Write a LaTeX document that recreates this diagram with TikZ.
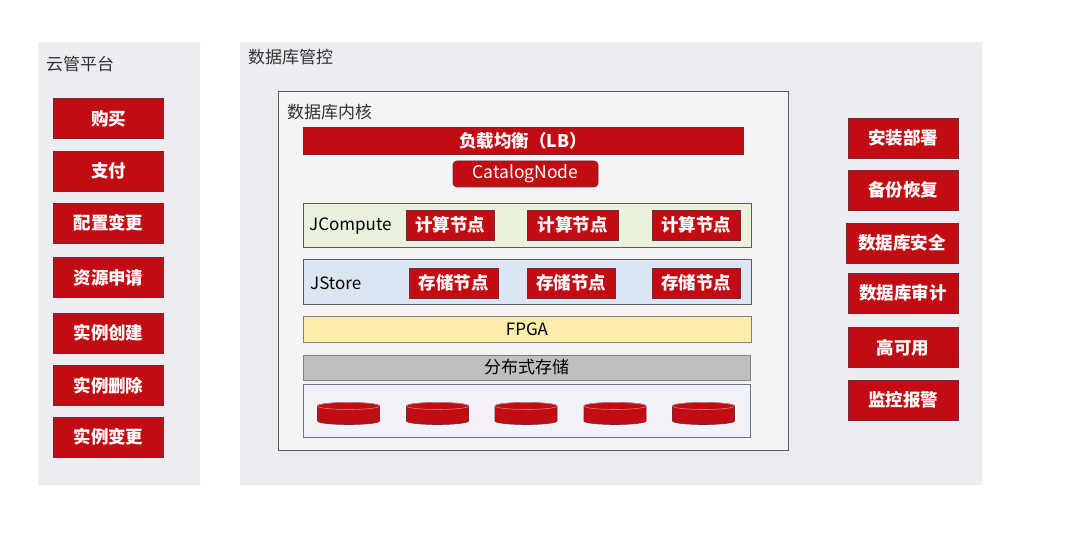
\documentclass[tikz,border=0pt]{standalone}
\usepackage{fontspec}
\setmainfont{Noto Sans CJK SC}
\usetikzlibrary{shapes,positioning}

\definecolor{panelbg}{RGB}{237,237,241}
\definecolor{corebg}{RGB}{244,244,246}
\definecolor{coreline}{RGB}{90,90,95}
\definecolor{btnred}{RGB}{192,12,18}
\definecolor{btnline}{RGB}{115,40,60}
\definecolor{disktop}{RGB}{215,120,125}
\definecolor{cmpgreen}{RGB}{234,241,221}
\definecolor{stoblue}{RGB}{220,230,242}
\definecolor{fpgayellow}{RGB}{254,238,172}
\definecolor{dfsgray}{RGB}{191,191,191}
\definecolor{diskbg}{RGB}{240,242,248}
\definecolor{diskline}{RGB}{105,115,145}
\definecolor{labelgray}{RGB}{50,50,50}

\tikzset{
  panel/.style={fill=panelbg, anchor=north west, inner sep=0pt},
  redbtn/.style={draw=btnline, fill=btnred, text=white, line width=0.8pt,
    font=\bfseries\fontsize{17.5}{19}\selectfont, inner sep=0pt},
  layer/.style={draw=coreline, line width=0.8pt, inner sep=0pt,
    font=\fontsize{17}{19}\selectfont, text=black},
  title/.style={anchor=west, inner sep=0pt, text=labelgray,
    font=\fontsize{17}{19}\selectfont},
  disk/.pic={
    \path[fill=btnred, draw=btnline, line width=0.6pt] (-31,-7.5) -- (-31,7.5)
      arc[start angle=180, end angle=0, x radius=31, y radius=3.5] -- (31,-7.5)
      arc[start angle=0, end angle=-180, x radius=31, y radius=3.5] -- cycle;
    \draw[disktop, line width=0.6pt] (0,-7.5) ellipse[x radius=31, y radius=3.5];
  }
}

\begin{document}
\begin{tikzpicture}[x=1pt, y=-1pt]
    \useasboundingbox[fill=white] (0,0) rectangle (1080,545);

    % Cloud platform column
    \node[panel, minimum width=162, minimum height=443] (cloud) at (38,42) {};
    \node[title] (cloudtitle) at (46,64) {云管平台};
    \node[redbtn, minimum width=110, minimum height=40] (buy) at (108.5,118.5) {购买};
    \node[redbtn, minimum width=110, minimum height=40] (pay) at (108.5,171) {支付};
    \node[redbtn, minimum width=110, minimum height=40] (config) at (108.5,223) {配置变更};
    \node[redbtn, minimum width=110, minimum height=40] (apply) at (108.5,277.5) {资源申请};
    \node[redbtn, minimum width=110, minimum height=40] (create) at (108.5,333) {实例创建};
    \node[redbtn, minimum width=110, minimum height=40] (delete) at (108.5,385.5) {实例删除};
    \node[redbtn, minimum width=110, minimum height=40] (change) at (108.5,437) {实例变更};

    % Database management area
    \node[panel, minimum width=742, minimum height=443] (mgmt) at (240,42) {};
    \node[title] (mgmttitle) at (248,57) {数据库管控};

    % Database kernel
    \node[layer, fill=corebg, anchor=north west, minimum width=510, minimum height=359] (kernel) at (278,91) {};
    \node[title] (kerneltitle) at (287,112) {数据库内核};
    \node[redbtn, minimum width=440, minimum height=27] (lb) at (523,140.5) {负载均衡（LB）};
    \node[redbtn, font=\mdseries\fontsize{17.5}{19}\selectfont, rounded corners=4pt, minimum width=145, minimum height=26] (catalog) at (525.5,174) {CatalogNode};

    % Compute layer
    \node[layer, fill=cmpgreen, minimum width=448, minimum height=44] (jcompute) at (527,225) {};
    \node[title, text=black] (jcomputetitle) at (309,226) {JCompute};
    \node[redbtn, minimum width=88, minimum height=30] (cn1) at (450,225) {计算节点};
    \node[redbtn, minimum width=91, minimum height=30] (cn2) at (572.5,225) {计算节点};
    \node[redbtn, minimum width=88, minimum height=30] (cn3) at (696,225) {计算节点};

    % Storage layer
    \node[layer, fill=stoblue, minimum width=448, minimum height=45] (jstore) at (527,281.5) {};
    \node[title, text=black] (jstoretitle) at (310,283) {JStore};
    \node[redbtn, minimum width=89, minimum height=30] (sn1) at (453.5,283) {存储节点};
    \node[redbtn, minimum width=88, minimum height=30] (sn2) at (571,283) {存储节点};
    \node[redbtn, minimum width=88, minimum height=30] (sn3) at (696,283) {存储节点};

    % FPGA and distributed storage
    \node[layer, draw=gray, fill=fpgayellow, minimum width=448, minimum height=26] (fpga) at (527,329) {FPGA};
    \node[layer, draw=gray, fill=dfsgray, minimum width=447, minimum height=25] (dfs) at (526.5,367.5) {分布式存储};

    % Disks
    \node[layer, draw=diskline, fill=diskbg, minimum width=447, minimum height=53] (disks) at (526.5,410.5) {};
    \pic (disk1) at (348.5,413.5) {disk};
    \pic (disk2) at (437.5,413.5) {disk};
    \pic (disk3) at (526,413.5) {disk};
    \pic (disk4) at (615,413.5) {disk};
    \pic (disk5) at (703.5,413.5) {disk};

    % Operations column
    \node[redbtn, minimum width=110, minimum height=40] (deploy) at (903,138) {安装部署};
    \node[redbtn, minimum width=110, minimum height=40] (backup) at (903,190) {备份恢复};
    \node[redbtn, minimum width=112, minimum height=40] (security) at (902,243) {数据库安全};
    \node[redbtn, minimum width=110, minimum height=40] (audit) at (903,293) {数据库审计};
    \node[redbtn, minimum width=110, minimum height=40] (ha) at (903,347.5) {高可用};
    \node[redbtn, minimum width=110, minimum height=40] (alarm) at (903,400) {监控报警};
\end{tikzpicture}
\end{document}
